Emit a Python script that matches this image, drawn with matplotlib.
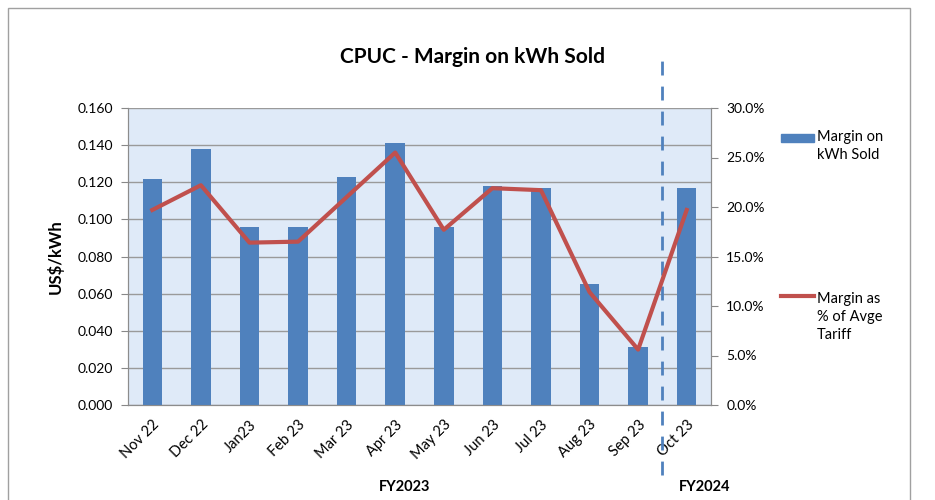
import matplotlib
matplotlib.use("Agg")
import matplotlib.pyplot as plt
from matplotlib.patches import Rectangle
from matplotlib.lines import Line2D

months = ["Nov 22", "Dec 22", "Jan23", "Feb 23", "Mar 23", "Apr 23", "May 23",
          "Jun 23", "Jul 23", "Aug 23", "Sep 23", "Oct 23"]
margin_kwh = [0.122, 0.138, 0.096, 0.096, 0.123, 0.141, 0.096,
              0.118, 0.117, 0.065, 0.031, 0.117]
margin_pct = [19.7, 22.2, 16.4, 16.5, 21.0, 25.5, 17.7,
              21.9, 21.7, 11.4, 5.6, 19.7]
left_ticks = [0.000, 0.020, 0.040, 0.060, 0.080, 0.100, 0.120, 0.140, 0.160]
right_ticks = [0, 5, 10, 15, 20, 25, 30]
fy_labels = ["FY2023", "FY2024"]

plt.rcParams['font.family'] = ['Lato', 'DejaVu Sans']

fig = plt.figure(figsize=(9.35, 5.0), dpi=100)
# outer chart border
fig.patches.append(Rectangle((8/935, -0.02), (910-8)/935, 1 - 8/500 + 0.02,
                             transform=fig.transFigure, fill=False,
                             edgecolor="#a0a0a0", linewidth=1.0))

ax = fig.add_axes([128/935, 1 - 405/500, (711-128)/935, (405-108)/500])
ax.set_facecolor("#dfeaf8")
x = list(range(len(months)))
ax.bar(x, margin_kwh, width=0.4, color="#4f81bd", zorder=3)
ax.set_ylim(0, 0.16)
ax.set_xlim(-0.5, len(months) - 0.5)
ax.set_yticks(left_ticks)
ax.set_yticklabels([f"{v:.3f}" for v in left_ticks], fontsize=10)
ax.yaxis.grid(True, color="#9a9a9a", linewidth=1.0, zorder=1)
ax.set_axisbelow(True)
ax.set_xticks(x)
ax.set_xticklabels(months, rotation=45, ha="right", rotation_mode="anchor", fontsize=10.5)
ax.tick_params(axis="x", length=0, pad=9)
ax.tick_params(axis="y", length=5, color="#888888", direction="out", pad=6)
for s in ["top"]:
    ax.spines[s].set_visible(False)
for s in ["left", "bottom", "right"]:
    ax.spines[s].set_color("#8c8c8c")
ax.set_ylabel("US$/kWh", fontsize=12, fontweight="bold", labelpad=10)

ax2 = ax.twinx()
ax2.plot(x, margin_pct, color="#c0504d", linewidth=3, zorder=4)
ax2.set_ylim(0, 30)
ax2.set_yticks(right_ticks)
ax2.set_yticklabels([f"{v:.1f}%" for v in right_ticks], fontsize=10)
ax2.tick_params(axis="y", length=5, color="#888888", direction="out", pad=6)
ax2.spines["top"].set_visible(False)
for s in ["left", "bottom", "right"]:
    ax2.spines[s].set_color("#8c8c8c")

# dashed divider between fiscal years
ax.axvline(10.5, ymin=-0.236, ymax=1.16, color="#4f81bd", linestyle=(0, (5, 4)),
           linewidth=2, clip_on=False, zorder=5)

fig.text(0.5 + 0.005, 1 - 57/500, "CPUC - Margin on kWh Sold", ha="center", va="center",
         fontsize=15, fontweight="bold")
fig.text(405/935, 1 - 487/500, fy_labels[0], ha="center", va="center",
         fontsize=10.5, fontweight="bold")
fig.text(705/935, 1 - 487/500, fy_labels[1], ha="center", va="center",
         fontsize=10.5, fontweight="bold")

# legend
fig.patches.append(Rectangle((781/935, 1 - 142/500), 33/935, 8/500,
                             transform=fig.transFigure, color="#4f81bd"))
fig.text(817/935, 1 - 146/500, "Margin on\nkWh Sold", ha="left", va="center",
         fontsize=10.5, linespacing=1.35)
fig.lines.append(Line2D([781/935, 814/935], [1 - 296/500, 1 - 296/500],
                        transform=fig.transFigure, color="#c0504d", linewidth=3))
fig.text(817/935, 1 - 317/500, "Margin as\n% of Avge\nTariff", ha="left", va="center",
         fontsize=10.5, linespacing=1.35)

fig.savefig("out.png", dpi=100)
